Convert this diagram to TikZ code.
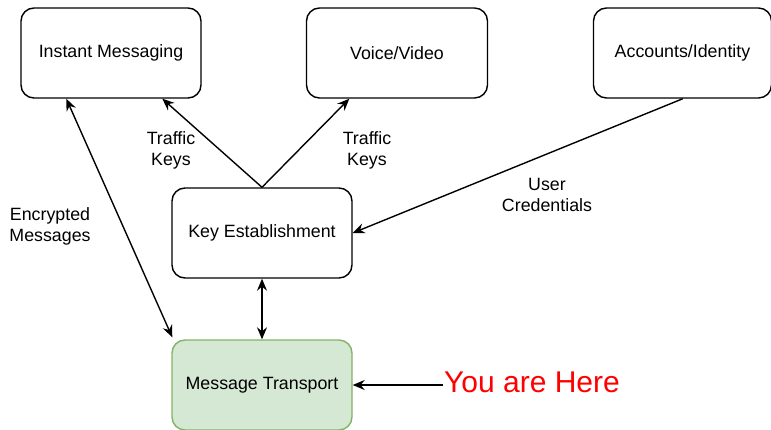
\documentclass[tikz,border=0pt]{standalone}
\usepackage{fontspec}
\setmainfont{Liberation Sans}
\usetikzlibrary{arrows.meta,calc}
\definecolor{mtfill}{HTML}{D5E8D4}
\definecolor{mtline}{HTML}{82B366}
\tikzset{
  box/.style={draw=black, line width=1.4pt, rounded corners=13pt,
    minimum width=180pt, minimum height=90pt, inner sep=0pt,
    font=\fontsize{17.8pt}{21pt}\selectfont},
  lbl/.style={align=center, inner sep=0pt, font=\fontsize{17.8pt}{21pt}\selectfont},
  arr/.style={line width=1.4pt, -{Stealth[length=12pt,width=10pt,inset=4pt]}},
  darr/.style={line width=1.4pt, {Stealth[length=12pt,width=10pt,inset=4pt]}-{Stealth[length=12pt,width=10pt,inset=4pt]}}
}
\begin{document}
\begin{tikzpicture}[x=1pt,y=-1pt]
\useasboundingbox (0,0) rectangle (771,429);
% boxes
\node[box] (im) at (111,53) {Instant Messaging};
\node[box, minimum width=181pt] (vv) at (397,53) {Voice/Video};
\node[box, minimum width=178pt] (ai) at (682.5,53) {Accounts/Identity};
\node[box] (ke) at (262,233) {Key Establishment};
\node[box, draw=mtline, fill=mtfill] (mt) at (262,385) {Message Transport};
% labels
\node[lbl] (tk1) at (171,150) {Traffic\\Keys};
\node[lbl] (tk2) at (367,150) {Traffic\\Keys};
\node[lbl] (uc) at (547,195) {User\\Credentials};
\node[lbl] (em) at (50,226) {Encrypted\\Messages};
\node[anchor=west, inner sep=1pt, text=red, font=\fontsize{30pt}{34pt}\selectfont] (you) at (443,382) {You are Here};
% connectors
\draw[arr] (ke.north) -- ($(im.south west)+(142,0)$);
\draw[arr] (ke.north) -- ($(vv.south west)+(43.5,0)$);
\draw[arr] ($(ai.south west)+(90,0)$) -- (ke.east);
\draw[darr] ($(im.south west)+(46,0)$) -- ($(mt.north west)+(1,-2)$);
\draw[darr] (ke.south) -- (mt.north);
\draw[arr] (you.west |- mt.east) -- (mt.east);
\end{tikzpicture}
\end{document}
